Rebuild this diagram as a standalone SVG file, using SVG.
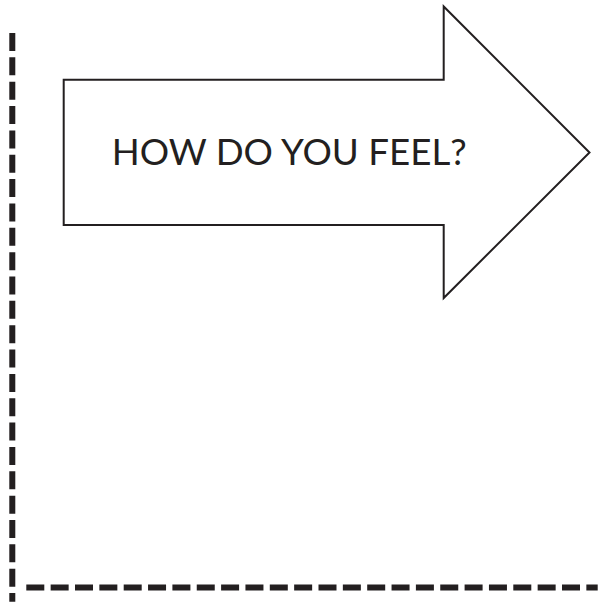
<svg xmlns="http://www.w3.org/2000/svg" width="605" height="608" viewBox="0 0 605 608">
<style>
.axis{fill:none;stroke:#231f20;stroke-width:6;stroke-dasharray:18 6.35}
.arrow{fill:#ffffff;stroke:#231f20;stroke-width:2}
.label{font-family:Lato,"Liberation Sans",sans-serif;font-size:36px;fill:#231f20;font-weight:400}
</style>
<rect width="605" height="608" fill="#ffffff"/>
<g id="connectors">
<line class="axis" x1="12.3" y1="33" x2="12.3" y2="601.7"/>
<line class="axis" x1="26.3" y1="587.5" x2="597.7" y2="587.5"/>
</g>
<g id="arrow-node">
<polygon class="arrow" points="63.7,79.7 443.7,79.7 443.7,6.5 589.5,152.5 443.7,298 443.7,225 63.7,225"/>
<text class="label" x="111.7" y="165.3" textLength="355" lengthAdjust="spacingAndGlyphs">HOW DO YOU FEEL?</text>
</g>
</svg>
